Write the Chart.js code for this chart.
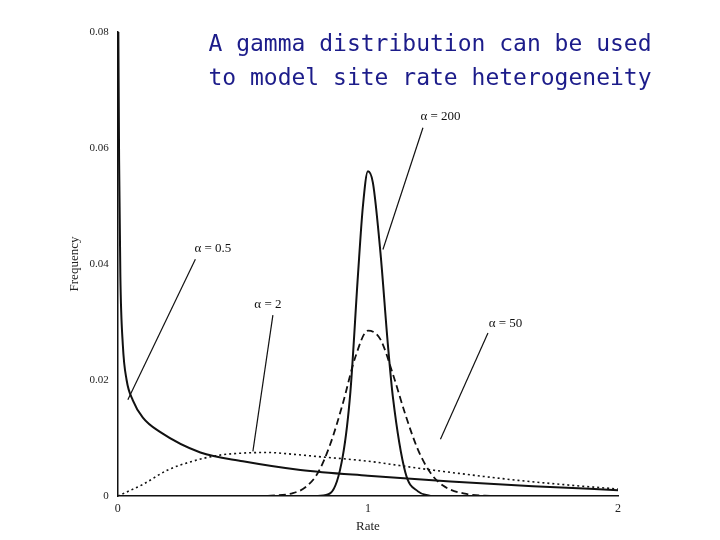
<!DOCTYPE html>
<html>
<head>
<meta charset="utf-8">
<script src="https://cdn.jsdelivr.net/npm/chart.js@4"></script>
<style>
  body { margin: 0; background: #fff; }
  #wrap { position: relative; width: 720px; height: 540px; }
  #title { position: absolute; left: 180px; top: 26px; width: 500px; text-align: center;
    font-family: "DejaVu Sans Mono", monospace; font-size: 23px; line-height: 34px; color: #1c1c8a; }
</style>
</head>
<body>
<div id="wrap">
  <canvas id="chart" width="720" height="540"></canvas>
  <div id="title">A gamma distribution can be used<br>to model site rate heterogeneity</div>
</div>
<script>
// values: [rate, frequency]
const alpha05 = [[0.002,0.08],[0.005,0.058],[0.01,0.038],[0.02,0.026],[0.035,0.02],[0.06,0.0165],[0.1,0.0135],
  [0.17,0.011],[0.33,0.0075],[0.5,0.006],[0.73,0.0045],[1.0,0.0035],[1.33,0.0025],[1.66,0.0017],[2.0,0.001]];
const alpha2 = [[0,0],[0.1,0.002],[0.2,0.0045],[0.3,0.006],[0.4,0.007],[0.5,0.0074],[0.6,0.0075],
  [0.7,0.0072],[0.8,0.0068],[1.0,0.006],[1.2,0.0048],[1.4,0.0037],[1.6,0.0027],[1.8,0.0019],[2.0,0.0012]];
const alpha50 = [[0.6,0],[0.7,0.0005],[0.75,0.0015],[0.8,0.004],[0.85,0.009],[0.9,0.016],[0.95,0.024],
  [1.0,0.0285],[1.05,0.027],[1.1,0.021],[1.15,0.014],[1.2,0.008],[1.25,0.004],[1.3,0.0018],[1.4,0.0003],[1.5,0]];
const alpha200 = [[0.8,0],[0.85,0.0005],[0.9,0.007],[0.93,0.018],[0.96,0.038],[0.98,0.05],[1.0,0.056],
  [1.02,0.054],[1.05,0.042],[1.08,0.026],[1.1,0.017],[1.15,0.004],[1.2,0.0008],[1.25,0]];
const xTicks = [0, 1, 2];
const yTicks = [0, 0.02, 0.04, 0.06, 0.08];
// label text, label anchor, leader line start/end (data coords)
const notes = [
  { text: "α = 200", at: [1.29, 0.0655], from: [1.22, 0.0635], to: [1.06, 0.0425] },
  { text: "α = 0.5", at: [0.38, 0.0427], from: [0.31, 0.0408], to: [0.04, 0.0166] },
  { text: "α = 2", at: [0.6, 0.0330], from: [0.62, 0.0312], to: [0.54, 0.0077] },
  { text: "α = 50", at: [1.55, 0.0298], from: [1.48, 0.0281], to: [1.29, 0.0098] }
];

const toXY = arr => arr.map(p => ({ x: p[0], y: p[1] }));
const line = (data, dash, width) => ({
  data: toXY(data), showLine: true, pointRadius: 0, borderColor: "#111", borderWidth: width,
  borderDash: dash, cubicInterpolationMode: "monotone", fill: false
});

const notesPlugin = {
  id: "notes",
  afterDatasetsDraw(chart) {
    const { ctx, scales: { x, y } } = chart;
    ctx.save();
    ctx.strokeStyle = "#111";
    ctx.lineWidth = 1.2;
    ctx.fillStyle = "#111";
    ctx.font = "13px 'Liberation Serif', serif";
    ctx.textAlign = "center";
    ctx.textBaseline = "middle";
    notes.forEach(n => {
      ctx.beginPath();
      ctx.moveTo(x.getPixelForValue(n.from[0]), y.getPixelForValue(n.from[1]));
      ctx.lineTo(x.getPixelForValue(n.to[0]), y.getPixelForValue(n.to[1]));
      ctx.stroke();
      ctx.fillText(n.text, x.getPixelForValue(n.at[0]), y.getPixelForValue(n.at[1]));
    });
    ctx.restore();
  }
};

new Chart(document.getElementById("chart"), {
  type: "scatter",
  data: {
    datasets: [
      line(alpha05, [], 2),
      line(alpha2, [2, 3], 1.6),
      line(alpha50, [7, 4], 1.8),
      line(alpha200, [], 2)
    ]
  },
  options: {
    responsive: false,
    animation: false,
    layout: { padding: { left: 63, right: 102, top: 32, bottom: 0 } },
    plugins: { legend: { display: false }, tooltip: { enabled: false } },
    scales: {
      x: {
        type: "linear", min: 0, max: 2,
        afterBuildTicks: s => { s.ticks = xTicks.map(v => ({ value: v })); },
        grid: { display: false, drawTicks: true, tickLength: 5 },
        border: { color: "#111", width: 1.5 },
        ticks: { color: "#222", padding: 1, font: { family: "Liberation Serif", size: 12 }, callback: v => v },
        title: { display: true, text: "Rate", color: "#222", padding: { top: 1, bottom: 6 },
          font: { family: "Liberation Serif", size: 13 } }
      },
      y: {
        min: 0, max: 0.08,
        afterBuildTicks: s => { s.ticks = yTicks.map(v => ({ value: v })); },
        grid: { display: false, tickLength: 6 },
        border: { color: "#111", width: 1.5 },
        ticks: { color: "#222", font: { family: "Liberation Serif", size: 11 },
          callback: v => v === 0 ? "0" : v.toFixed(2) },
        title: { display: true, text: "Frequency", color: "#222", font: { family: "Liberation Serif", size: 13 } }
      }
    }
  },
  plugins: [notesPlugin]
});
</script>
</body>
</html>
